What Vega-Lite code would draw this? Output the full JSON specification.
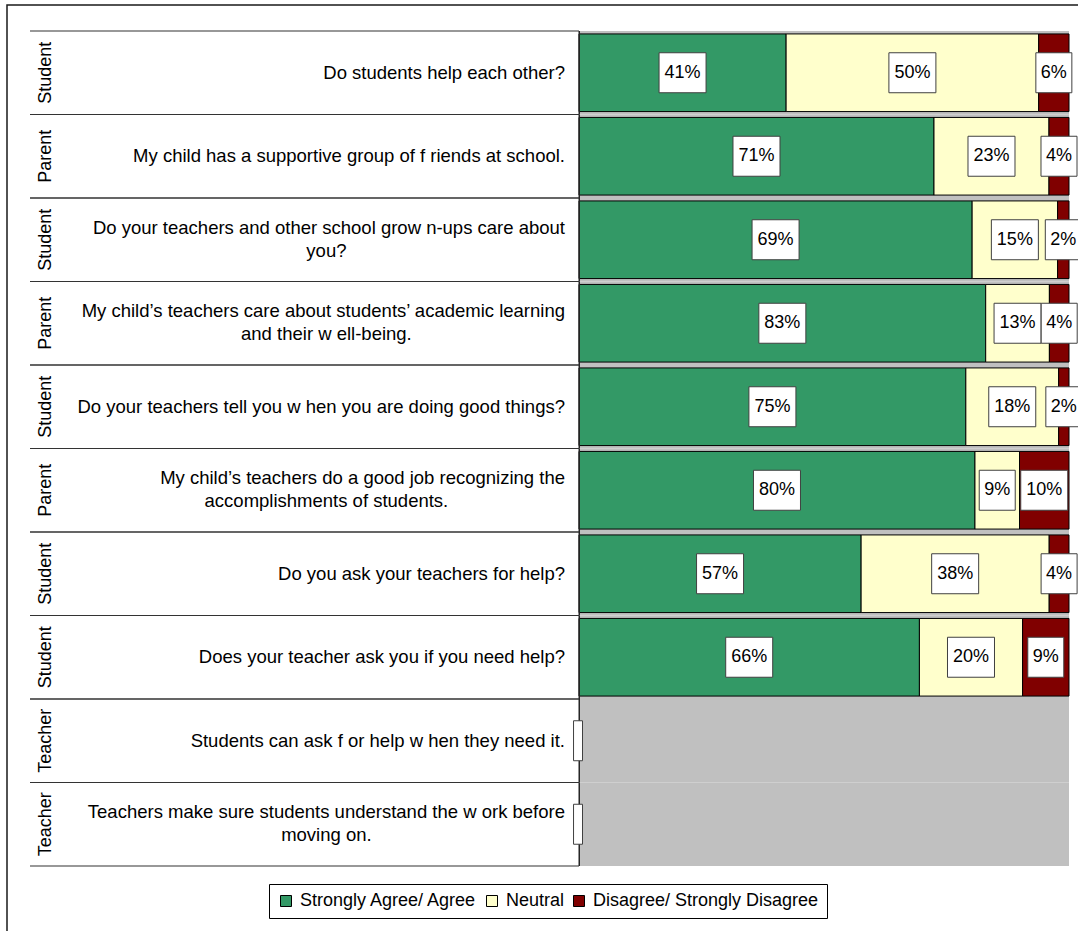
{
  "$schema": "https://vega.github.io/schema/vega-lite/v6.json",
  "width": 1090,
  "height": 940,
  "autosize": {"type": "none"},
  "padding": {"left": 7, "top": 5, "right": 0, "bottom": 0},
  "background": "white",
  "config": {
    "font": "Liberation Sans",
    "view": {"stroke": "#1a1a1a", "strokeWidth": 1.5},
    "text": {"font": "Liberation Sans", "fontSize": 18, "color": "black"}
  },
  "datasets": {
    "qs": [
      {"n": 1, "grp": "Student", "line1": "Do students help each other?", "line2": null},
      {"n": 2, "grp": "Parent", "line1": "My child has a supportive group of f riends at school.", "line2": null},
      {"n": 3, "grp": "Student", "line1": "Do your teachers and other school grow n-ups care about", "line2": "you?"},
      {"n": 4, "grp": "Parent", "line1": "My child’s teachers care about students’ academic learning", "line2": "and their w ell-being."},
      {"n": 5, "grp": "Student", "line1": "Do your teachers tell you w hen you are doing good things?", "line2": null},
      {"n": 6, "grp": "Parent", "line1": "My child’s teachers do a good job recognizing the", "line2": "accomplishments of students."},
      {"n": 7, "grp": "Student", "line1": "Do you ask your teachers for help?", "line2": null},
      {"n": 8, "grp": "Student", "line1": "Does your teacher ask you if you need help?", "line2": null},
      {"n": 9, "grp": "Teacher", "line1": "Students can ask f or help w hen they need it.", "line2": null},
      {"n": 10, "grp": "Teacher", "line1": "Teachers make sure students understand the w ork before", "line2": "moving on."}
    ],
    "resp": [
      {"n": 1, "cat": "Strongly Agree/ Agree", "pct": 0.41},
      {"n": 1, "cat": "Neutral", "pct": 0.50},
      {"n": 1, "cat": "Disagree/ Strongly Disagree", "pct": 0.06},
      {"n": 2, "cat": "Strongly Agree/ Agree", "pct": 0.71},
      {"n": 2, "cat": "Neutral", "pct": 0.23},
      {"n": 2, "cat": "Disagree/ Strongly Disagree", "pct": 0.04},
      {"n": 3, "cat": "Strongly Agree/ Agree", "pct": 0.69},
      {"n": 3, "cat": "Neutral", "pct": 0.15},
      {"n": 3, "cat": "Disagree/ Strongly Disagree", "pct": 0.02},
      {"n": 4, "cat": "Strongly Agree/ Agree", "pct": 0.83},
      {"n": 4, "cat": "Neutral", "pct": 0.13},
      {"n": 4, "cat": "Disagree/ Strongly Disagree", "pct": 0.04},
      {"n": 5, "cat": "Strongly Agree/ Agree", "pct": 0.75},
      {"n": 5, "cat": "Neutral", "pct": 0.18},
      {"n": 5, "cat": "Disagree/ Strongly Disagree", "pct": 0.02},
      {"n": 6, "cat": "Strongly Agree/ Agree", "pct": 0.80},
      {"n": 6, "cat": "Neutral", "pct": 0.09},
      {"n": 6, "cat": "Disagree/ Strongly Disagree", "pct": 0.10},
      {"n": 7, "cat": "Strongly Agree/ Agree", "pct": 0.57},
      {"n": 7, "cat": "Neutral", "pct": 0.38},
      {"n": 7, "cat": "Disagree/ Strongly Disagree", "pct": 0.04},
      {"n": 8, "cat": "Strongly Agree/ Agree", "pct": 0.66},
      {"n": 8, "cat": "Neutral", "pct": 0.20},
      {"n": 8, "cat": "Disagree/ Strongly Disagree", "pct": 0.09}
    ]
  },
  "encoding": {
    "y": {
      "field": "n",
      "type": "ordinal",
      "axis": null,
      "scale": {"domain": [1, 2, 3, 4, 5, 6, 7, 8, 9, 10], "range": [26, 861], "paddingInner": 0, "paddingOuter": 0}
    }
  },
  "layer": [
    {
      "data": {"name": "qs"},
      "mark": {"type": "rect", "fill": "#C0C0C0"},
      "encoding": {
        "x": {"datum": 0, "type": "quantitative", "axis": null, "scale": {"domain": [-1.167347, 1.057143], "nice": false, "zero": false}},
        "x2": {"datum": 1}
      }
    },
    {
      "data": {"name": "resp"},
      "transform": [
        {"stack": "pct", "groupby": ["n"], "sort": [{"field": "cat", "order": "descending"}], "offset": "normalize", "as": ["s0", "s1"]}
      ],
      "mark": {"type": "bar", "height": {"band": 0.93}, "stroke": "black", "strokeWidth": 1},
      "encoding": {
        "x": {"field": "s0", "type": "quantitative", "axis": null, "scale": {"domain": [-1.167347, 1.057143], "nice": false, "zero": false}},
        "x2": {"field": "s1"},
        "color": {
          "field": "cat",
          "type": "nominal",
          "scale": {"domain": ["Strongly Agree/ Agree", "Neutral", "Disagree/ Strongly Disagree"], "range": ["#339966", "#FFFFCC", "#800000"]},
          "legend": {
            "title": null,
            "orient": "none",
            "legendX": 262,
            "legendY": 879,
            "direction": "horizontal",
            "symbolType": "square",
            "symbolSize": 121,
            "symbolStrokeColor": "black",
            "symbolStrokeWidth": 1,
            "labelFont": "Liberation Sans",
            "labelFontSize": 18,
            "labelColor": "black",
            "labelLimit": 400,
            "labelOffset": 5,
            "columnPadding": 5,
            "padding": 8,
            "strokeColor": "black",
            "fillColor": "white"
          }
        }
      }
    },
    {
      "data": {"name": "qs"},
      "mark": {"type": "rect", "fill": "#222222"},
      "encoding": {
        "x": {"datum": -0.001, "type": "quantitative"},
        "x2": {"datum": 0.002}
      }
    },
    {
      "data": {"name": "qs"},
      "mark": {"type": "rule", "stroke": "#333333", "strokeWidth": 1.2},
      "encoding": {
        "y": {"field": "n", "type": "ordinal", "bandPosition": 0},
        "x": {"datum": -1.1204, "type": "quantitative"},
        "x2": {"datum": 0}
      }
    },
    {
      "data": {"name": "qs"},
      "mark": {"type": "rule", "stroke": "#333333", "strokeWidth": 1.2},
      "encoding": {
        "y": {"field": "n", "type": "ordinal", "bandPosition": 1},
        "x": {"datum": -1.1204, "type": "quantitative"},
        "x2": {"datum": 0}
      }
    },
    {
      "data": {"name": "qs"},
      "mark": {"type": "text", "angle": 270, "align": "center", "baseline": "middle", "fontSize": 18},
      "encoding": {
        "x": {"datum": -1.0878, "type": "quantitative"},
        "text": {"field": "grp"}
      }
    },
    {
      "data": {"name": "qs"},
      "transform": [{"filter": "!isValid(datum.line2)"}],
      "mark": {"type": "text", "align": "right", "baseline": "middle", "fontSize": 18.5},
      "encoding": {
        "x": {"datum": -0.0286, "type": "quantitative"},
        "text": {"field": "line1"}
      }
    },
    {
      "data": {"name": "qs"},
      "transform": [{"filter": "isValid(datum.line2)"}],
      "mark": {"type": "text", "align": "right", "baseline": "middle", "fontSize": 18.5, "dy": -12},
      "encoding": {
        "x": {"datum": -0.0286, "type": "quantitative"},
        "text": {"field": "line1"}
      }
    },
    {
      "data": {"name": "qs"},
      "transform": [{"filter": "isValid(datum.line2)"}],
      "mark": {"type": "text", "align": "center", "baseline": "middle", "fontSize": 18.5, "dy": 11},
      "encoding": {
        "x": {"datum": -0.5155, "type": "quantitative"},
        "text": {"field": "line2"}
      }
    },
    {
      "data": {"name": "resp"},
      "transform": [
        {"stack": "pct", "groupby": ["n"], "sort": [{"field": "cat", "order": "descending"}], "offset": "normalize", "as": ["s0", "s1"]},
        {"fold": ["s0", "s1"], "as": ["edge", "pos"]},
        {"aggregate": [{"op": "mean", "field": "pos", "as": "mid"}], "groupby": ["n", "cat", "pct"]},
        {"filter": "datum.pct >= 0.1"}
      ],
      "mark": {"type": "point", "filled": true, "fill": "white", "stroke": "#404040", "strokeWidth": 1, "opacity": 1, "size": 2209, "shape": "M-1,-0.851L1,-0.851L1,0.851L-1,0.851Z"},
      "encoding": {
        "x": {"field": "mid", "type": "quantitative"}
      }
    },
    {
      "data": {"name": "resp"},
      "transform": [
        {"stack": "pct", "groupby": ["n"], "sort": [{"field": "cat", "order": "descending"}], "offset": "normalize", "as": ["s0", "s1"]},
        {"fold": ["s0", "s1"], "as": ["edge", "pos"]},
        {"aggregate": [{"op": "mean", "field": "pos", "as": "mid"}], "groupby": ["n", "cat", "pct"]},
        {"filter": "datum.pct < 0.1"}
      ],
      "mark": {"type": "point", "filled": true, "fill": "white", "stroke": "#404040", "strokeWidth": 1, "opacity": 1, "size": 2209, "shape": "M-0.766,-0.851L0.766,-0.851L0.766,0.851L-0.766,0.851Z"},
      "encoding": {
        "x": {"field": "mid", "type": "quantitative"}
      }
    },
    {
      "data": {"name": "resp"},
      "transform": [
        {"stack": "pct", "groupby": ["n"], "sort": [{"field": "cat", "order": "descending"}], "offset": "normalize", "as": ["s0", "s1"]},
        {"fold": ["s0", "s1"], "as": ["edge", "pos"]},
        {"aggregate": [{"op": "mean", "field": "pos", "as": "mid"}], "groupby": ["n", "cat", "pct"]}
      ],
      "mark": {"type": "text", "align": "center", "baseline": "middle", "fontSize": 18},
      "encoding": {
        "x": {"field": "mid", "type": "quantitative"},
        "text": {"field": "pct", "type": "quantitative", "format": ".0%"}
      }
    },
    {
      "data": {"name": "qs"},
      "transform": [{"filter": "datum.grp === 'Teacher'"}],
      "mark": {"type": "point", "filled": true, "fill": "white", "stroke": "#404040", "strokeWidth": 1, "opacity": 1, "size": 2209, "shape": "M-0.191,-0.851L0.191,-0.851L0.191,0.851L-0.191,0.851Z"},
      "encoding": {
        "x": {"datum": -0.002, "type": "quantitative"}
      }
    }
  ]
}
